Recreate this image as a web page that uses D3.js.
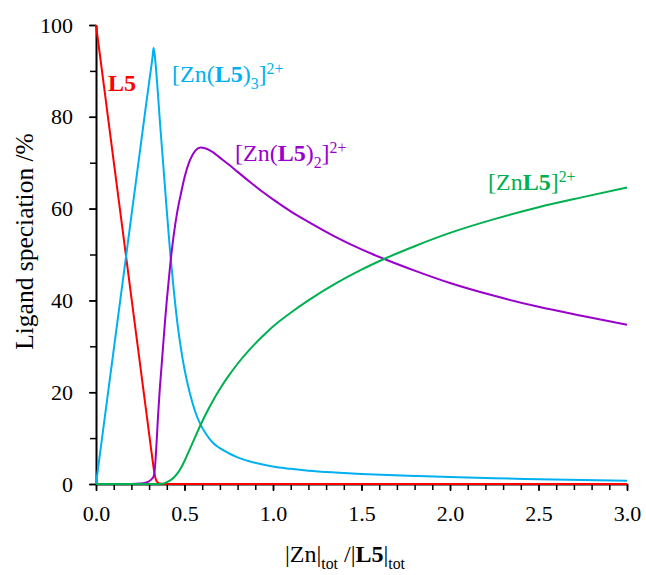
<!DOCTYPE html>
<html>
<head>
<meta charset="utf-8">
<script src="https://cdn.jsdelivr.net/npm/d3@7"></script>
<style>
  body { margin: 0; background: #fff; }
</style>
</head>
<body>
<div id="chart"></div>
<script>
const FONT = "Liberation Serif";

// Zn / L5 ratio (x) and ligand speciation in % for each species
const ratio = [0, 0.05, 0.1, 0.15, 0.2, 0.25, 0.28, 0.3, 0.31, 0.32, 0.325, 0.33,
    0.34, 0.35, 0.36, 0.37, 0.38, 0.39, 0.4, 0.42, 0.44, 0.46, 0.48, 0.5,
    0.53, 0.56, 0.59, 0.62, 0.66, 0.7, 0.75, 0.8, 0.87, 0.95, 1.0,
    1.1, 1.2, 1.35, 1.5, 1.65, 1.8, 2.0, 2.25, 2.5, 2.75, 3.0];

const freeL5 = [100, 85.2, 70.3, 55.5, 40.6, 25.8, 16.9, 11, 8, 5.1, 3.6, 2.3,
    0.8, 0.3, 0.1, 0.05, 0, 0, 0, 0, 0, 0, 0, 0,
    0, 0, 0, 0, 0, 0, 0, 0, 0, 0, 0,
    0, 0, 0, 0, 0, 0, 0, 0, 0, 0, 0];

const znL3 = [0, 14.6, 29.2, 43.8, 58.4, 73, 81.8, 87.5, 90.3, 93.2, 95, 94,
    90, 85, 79.5, 74.5, 69.5, 64.5, 59.5, 50, 42, 35, 29.5, 25,
    19.8, 15.8, 13, 11, 9, 7.8, 6.7, 5.8, 4.9, 4.2, 3.8,
    3.3, 2.9, 2.5, 2.2, 1.95, 1.75, 1.5, 1.25, 1.05, 0.85, 0.7];

const znL2 = [0, 0, 0, 0, 0, 0.1, 0.3, 0.6, 0.9, 1.3, 1.6, 2.4,
    7.5, 14.5, 20.5, 25.5, 30.5, 35.5, 40, 48, 54.5, 59.5, 63.3, 66.8,
    70.5, 72.6, 73.3, 73.1, 72.3, 71.1, 69.6, 68.0, 65.8, 63.4, 62.0,
    59.4, 57.1, 53.9, 51.1, 48.7, 46.5, 43.8, 41.0, 38.6, 36.6, 34.7];

const znL = [0, 0, 0, 0, 0, 0, 0, 0, 0, 0, 0, 0,
    0, 0, 0, 0.05, 0.1, 0.2, 0.4, 0.8, 1.4, 2.3, 3.5, 5.0,
    7.6, 10.2, 12.8, 15.2, 18.1, 20.7, 23.6, 26.2, 29.4, 32.5, 34.3,
    37.3, 40.0, 43.6, 46.7, 49.4, 51.8, 54.7, 57.7, 60.3, 62.5, 64.6];

// Axis ticks
const xTicks = [0, 0.5, 1.0, 1.5, 2.0, 2.5, 3.0];
const xMinorTicks = d3.range(0, 31).map(i => i / 10);
const yTicks = [0, 20, 40, 60, 80, 100];
const yMinorTicks = [0, 10, 20, 30, 40, 50, 60, 70, 80, 90, 100];

// Series and their labels (text parts: b = bold, sub / sup)
const series = [
    {name: "L5", values: freeL5, color: "#ff0000",
     label: [{t: "L5", b: true}], lx: 108, ly: 91},
    {name: "ZnL3", values: znL3, color: "#00b0f0",
     label: [{t: "[Zn("}, {t: "L5", b: true}, {t: ")"}, {t: "3", sub: true}, {t: "]"}, {t: "2+", sup: true}],
     lx: 172, ly: 82},
    {name: "ZnL2", values: znL2, color: "#9900cc",
     label: [{t: "[Zn("}, {t: "L5", b: true}, {t: ")"}, {t: "2", sub: true}, {t: "]"}, {t: "2+", sup: true}],
     lx: 235, ly: 161},
    {name: "ZnL", values: znL, color: "#00b050",
     label: [{t: "[Zn"}, {t: "L5", b: true}, {t: "]"}, {t: "2+", sup: true}],
     lx: 488, ly: 190}
];

const xTitle = [{t: "|Zn|"}, {t: "tot", sub: true}, {t: " /|"}, {t: "L5", b: true}, {t: "|"}, {t: "tot", sub: true}];

// Write a label made of normal / bold / sub / sup parts
function richText(sel, parts, size) {
    let shift = 0;
    parts.forEach(p => {
        let target = 0;
        if (p.sub) target = 7;
        if (p.sup) target = -8;
        sel.append("tspan")
            .attr("dy", target - shift)
            .style("font-family", FONT)
            .style("font-size", ((p.sub || p.sup) ? size * 0.66 : size) + "px")
            .style("font-weight", p.b ? "bold" : "normal")
            .text(p.t);
        shift = target;
    });
}

function drawChart() {
    const width = 646;
    const height = 575;
    const margin = {top: 25, right: 19, bottom: 91, left: 96};

    const svg = d3.select("#chart").append("svg")
        .attr("width", width)
        .attr("height", height)
        .style("font-family", FONT);

    const x = d3.scaleLinear().domain([0, 3]).range([margin.left, width - margin.right]);
    const y = d3.scaleLinear().domain([0, 100]).range([height - margin.bottom, margin.top]);

    // Minor ticks first, then main axes
    svg.append("g")
        .attr("transform", `translate(0,${y(0)})`)
        .call(d3.axisBottom(x).tickValues(xMinorTicks).tickFormat("").tickSize(6).tickSizeOuter(0))
        .call(g => g.select(".domain").remove())
        .call(g => g.selectAll("line").attr("stroke-width", 1.5));

    svg.append("g")
        .attr("transform", `translate(${x(0)},0)`)
        .call(d3.axisLeft(y).tickValues(yMinorTicks).tickFormat("").tickSize(6).tickSizeOuter(0))
        .call(g => g.select(".domain").remove())
        .call(g => g.selectAll("line").attr("stroke-width", 1.5));

    const xAxis = svg.append("g")
        .attr("transform", `translate(0,${y(0)})`)
        .call(d3.axisBottom(x).tickValues(xTicks).tickFormat(d3.format(".1f")).tickSize(7).tickSizeOuter(0).tickPadding(14));

    const yAxis = svg.append("g")
        .attr("transform", `translate(${x(0)},0)`)
        .call(d3.axisLeft(y).tickValues(yTicks).tickFormat(d3.format("d")).tickSize(7).tickSizeOuter(0).tickPadding(16));

    [xAxis, yAxis].forEach(ax => {
        ax.attr("font-family", null).attr("font-size", null);
        ax.select(".domain").attr("stroke-width", 2);
        ax.selectAll("line").attr("stroke-width", 1.5);
        ax.selectAll("text")
            .style("font-family", FONT)
            .style("font-size", "22px")
            .attr("fill", "#000");
    });

    // Curves
    const line = d3.line()
        .x((d, i) => x(ratio[i]))
        .y(d => y(d))
        .curve(d3.curveMonotoneX);

    svg.append("g")
        .selectAll("path")
        .data(series)
        .enter()
        .append("path")
        .attr("d", d => line(d.values))
        .attr("fill", "none")
        .attr("stroke", d => d.color)
        .attr("stroke-width", 2);

    // Species labels
    series.forEach(s => {
        const t = svg.append("text")
            .attr("x", s.lx)
            .attr("y", s.ly)
            .attr("fill", s.color);
        richText(t, s.label, 24);
    });

    // Axis titles
    svg.append("text")
        .attr("transform", `translate(33,${(y(0) + y(100)) / 2 - 13}) rotate(-90)`)
        .attr("text-anchor", "middle")
        .style("font-family", FONT)
        .style("font-size", "25.5px")
        .attr("fill", "#000")
        .text("Ligand speciation /%");

    const xt = svg.append("text")
        .attr("x", 285)
        .attr("y", 562)
        .attr("fill", "#000");
    richText(xt, xTitle, 24);
}

drawChart();
</script>
</body>
</html>
